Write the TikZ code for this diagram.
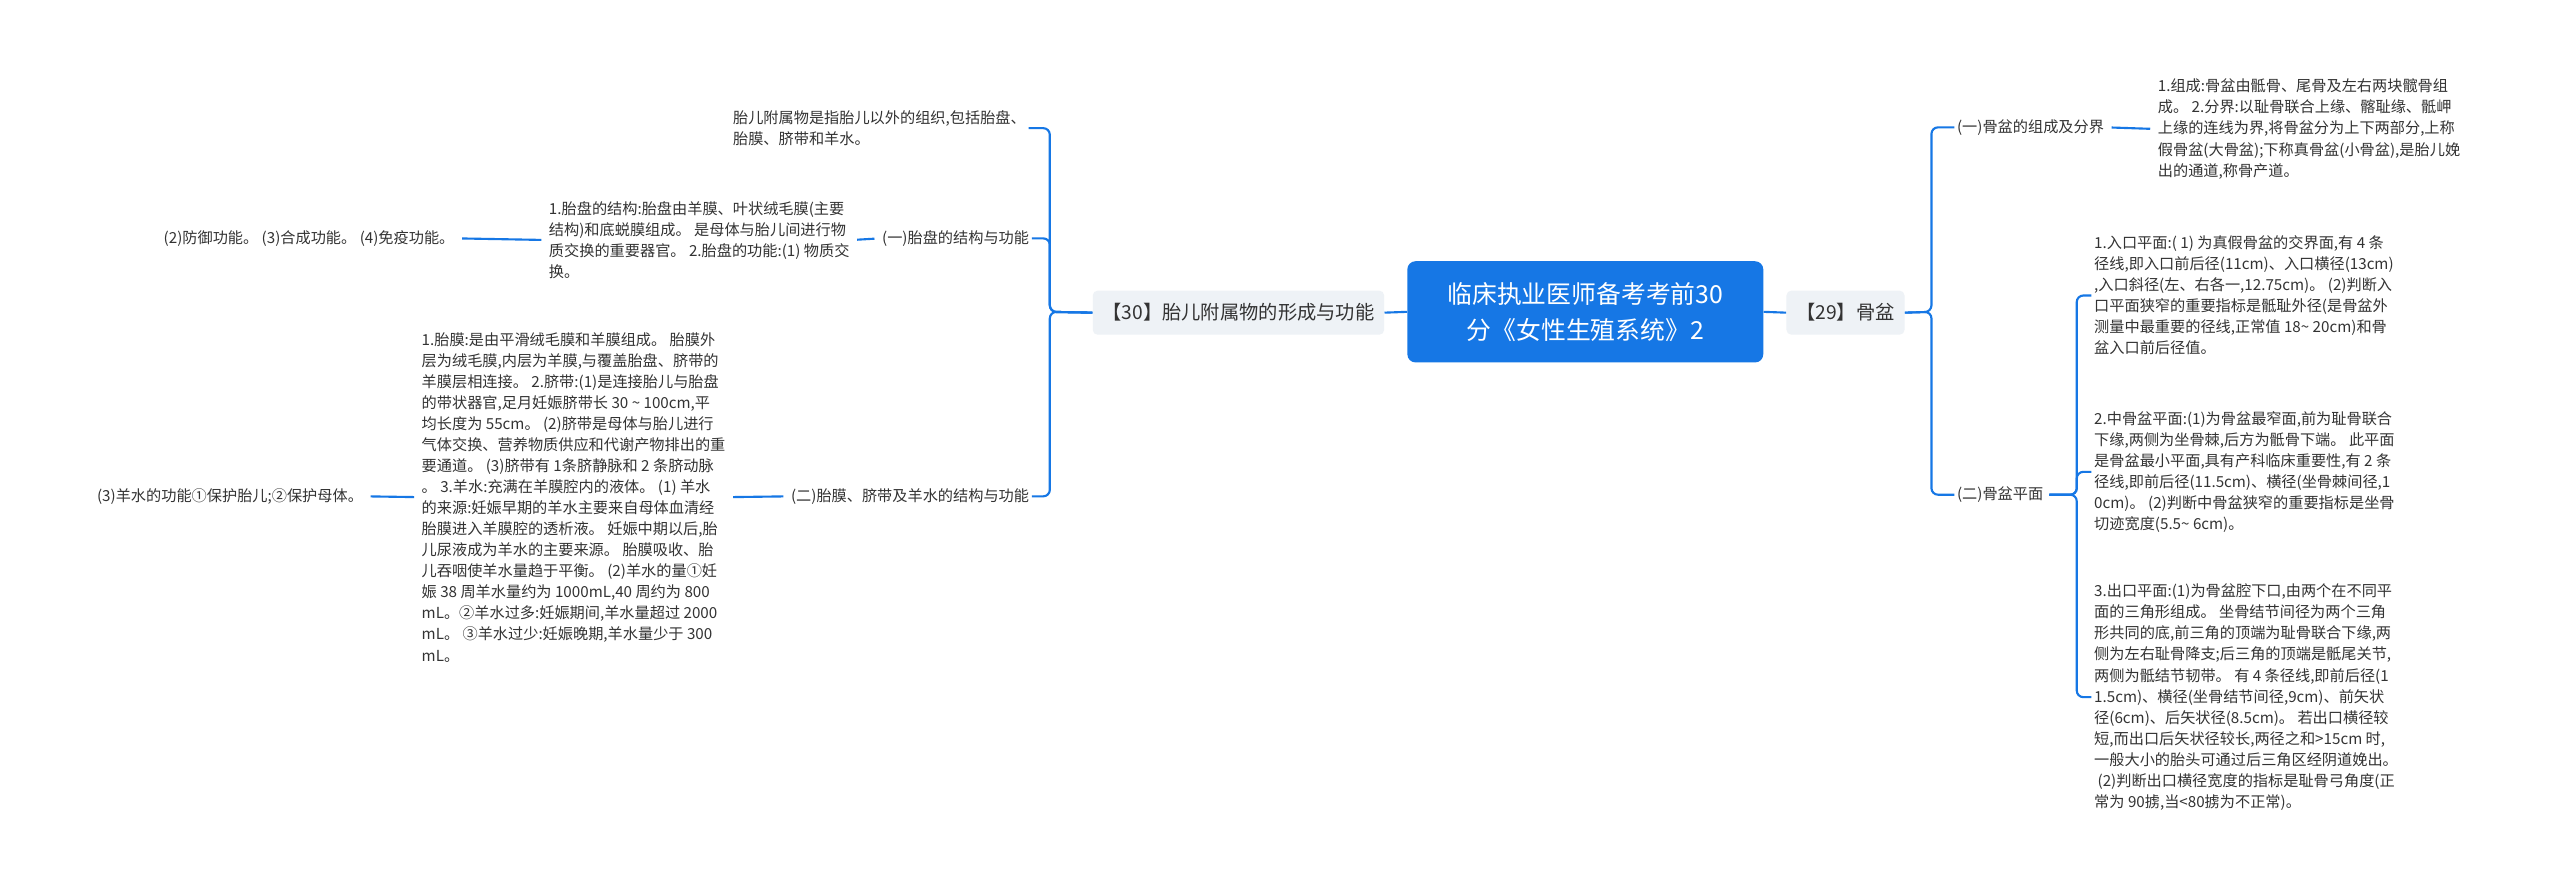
\documentclass[tikz,border=0pt]{standalone}
\usepackage{fontspec}
\setmainfont{Noto Sans CJK SC}
\definecolor{cblue}{HTML}{1677E5}
\definecolor{cgrey}{HTML}{EEF2F6}
\definecolor{ctext}{HTML}{333333}
\begin{document}
\begin{tikzpicture}[x=1pt,y=-1pt,
  conn/.style={draw=cblue,line width=1.3pt,rounded corners=4pt},
  seg/.style={draw=cblue,line width=1.3pt,shorten <=3pt,shorten >=3pt},
  txt/.style={font=\fontsize{9.3}{12.9}\selectfont,text=ctext,align=left,inner sep=1.5pt},
  lvl/.style={fill=cgrey,rounded corners=3pt,font=\fontsize{11.8}{14}\selectfont,text=ctext,minimum height=27pt,inner xsep=6pt}]
\useasboundingbox (0,0) rectangle (1568,544);
\fill[white] (0,0) rectangle (1568,544);
% centre
\node[fill=cblue,rounded corners=5pt,text=white,align=center,minimum width=218pt,minimum height=62pt,font=\fontsize{15.2}{22}\selectfont] (c) at (971,191) {临床执业医师备考考前30\\分《女性生殖系统》2};
\node[lvl,anchor=west] (r1) at (1094,191.5) {【29】骨盆};
\node[lvl,anchor=east] (l1) at (848,191.5) {【30】胎儿附属物的形成与功能};
\draw[conn] (c.east) -- (r1.west);
\draw[conn] (c.west) -- (l1.east);
\coordinate (rb) at (1183,191);
\coordinate (lb) at (643,191);
\coordinate (rb2) at (1272,303);
% right side
\node[txt,anchor=west] (q1) at (1197,78) {(一)骨盆的组成及分界};
\node[txt,anchor=west] (q1t) at (1320,79) {1.组成:骨盆由骶骨、尾骨及左右两块髋骨组\\成。 2.分界:以耻骨联合上缘、髂耻缘、骶岬\\上缘的连线为界,将骨盆分为上下两部分,上称\\假骨盆(大骨盆);下称真骨盆(小骨盆),是胎儿娩\\出的通道,称骨产道。};
\node[txt,anchor=west] (q2) at (1197,303) {(二)骨盆平面};
\node[txt,anchor=west] (q2a) at (1281,181) {1.入口平面:( 1) 为真假骨盆的交界面,有 4 条\\径线,即入口前后径(11cm)、入口横径(13cm)\\,入口斜径(左、右各一,12.75cm)。 (2)判断入\\口平面狭窄的重要指标是骶耻外径(是骨盆外\\测量中最重要的径线,正常值 18\textasciitilde{} 20cm)和骨\\盆入口前后径值。};
\node[txt,anchor=west] (q2b) at (1281,289) {2.中骨盆平面:(1)为骨盆最窄面,前为耻骨联合\\下缘,两侧为坐骨棘,后方为骶骨下端。 此平面\\是骨盆最小平面,具有产科临床重要性,有 2 条\\径线,即前后径(11.5cm)、横径(坐骨棘间径,1\\0cm)。 (2)判断中骨盆狭窄的重要指标是坐骨\\切迹宽度(5.5\textasciitilde{} 6cm)。};
\node[txt,anchor=west] (q2c) at (1281,427) {3.出口平面:(1)为骨盆腔下口,由两个在不同平\\面的三角形组成。 坐骨结节间径为两个三角\\形共同的底,前三角的顶端为耻骨联合下缘,两\\侧为左右耻骨降支;后三角的顶端是骶尾关节,\\两侧为骶结节韧带。 有 4 条径线,即前后径(1\\1.5cm)、横径(坐骨结节间径,9cm)、前矢状\\径(6cm)、后矢状径(8.5cm)。 若出口横径较\\短,而出口后矢状径较长,两径之和>15cm 时,\\一般大小的胎头可通过后三角区经阴道娩出。\\\ (2)判断出口横径宽度的指标是耻骨弓角度(正\\常为 90掳,当<80掳为不正常)。};
\draw[conn] (r1.east) -- (rb) |- (q1.west);
\draw[conn] (r1.east) -- (rb) |- (q2.west);
\draw[seg] (q1.east) -- (q1t.west);
\draw[conn] ([xshift=2pt]q2.east) -- (rb2) |- (q2a.west);
\draw[conn] ([xshift=2pt]q2.east) -- (rb2) |- (q2b.west);
\draw[conn] ([xshift=2pt]q2.east) -- (rb2) |- (q2c.west);
% left side
\node[txt,anchor=east] (note) at (630,78.5) {胎儿附属物是指胎儿以外的组织,包括胎盘、\\胎膜、脐带和羊水。};
\node[txt,anchor=east] (p1) at (632,146) {(一)胎盘的结构与功能};
\node[txt,anchor=east] (p1t) at (522,147) {1.胎盘的结构:胎盘由羊膜、叶状绒毛膜(主要\\结构)和底蜕膜组成。 是母体与胎儿间进行物\\质交换的重要器官。 2.胎盘的功能:(1) 物质交\\换。};
\node[txt,anchor=east] (p1tt) at (280,146) {(2)防御功能。 (3)合成功能。 (4)免疫功能。};
\node[txt,anchor=east] (p2) at (632,304) {(二)胎膜、脐带及羊水的结构与功能};
\node[txt,anchor=east] (p2t) at (446,304.5) {1.胎膜:是由平滑绒毛膜和羊膜组成。 胎膜外\\层为绒毛膜,内层为羊膜,与覆盖胎盘、脐带的\\羊膜层相连接。 2.脐带:(1)是连接胎儿与胎盘\\的带状器官,足月妊娠脐带长 30 \textasciitilde{} 100cm,平\\均长度为 55cm。 (2)脐带是母体与胎儿进行\\气体交换、营养物质供应和代谢产物排出的重\\要通道。 (3)脐带有 1条脐静脉和 2 条脐动脉\\。 3.羊水:充满在羊膜腔内的液体。 (1) 羊水\\的来源:妊娠早期的羊水主要来自母体血清经\\胎膜进入羊膜腔的透析液。 妊娠中期以后,胎\\儿尿液成为羊水的主要来源。 胎膜吸收、胎\\儿吞咽使羊水量趋于平衡。 (2)羊水的量①妊\\娠 38 周羊水量约为 1000mL,40 周约为 800\\mL。②羊水过多:妊娠期间,羊水量超过 2000\\mL。 ③羊水过少:妊娠晚期,羊水量少于 300\\mL。};
\node[txt,anchor=east] (p2tt) at (224,304) {(3)羊水的功能①保护胎儿;②保护母体。};
\draw[conn] (l1.west) -- (lb) |- (note.east);
\draw[conn] (l1.west) -- (lb) |- (p1.east);
\draw[conn] (l1.west) -- (lb) |- (p2.east);
\draw[seg] (p1.west) -- (p1t.east);
\draw[seg] (p1t.west) -- (p1tt.east);
\draw[seg] (p2.west) -- (p2t.east);
\draw[seg] (p2t.west) -- (p2tt.east);
\end{tikzpicture}
\end{document}
